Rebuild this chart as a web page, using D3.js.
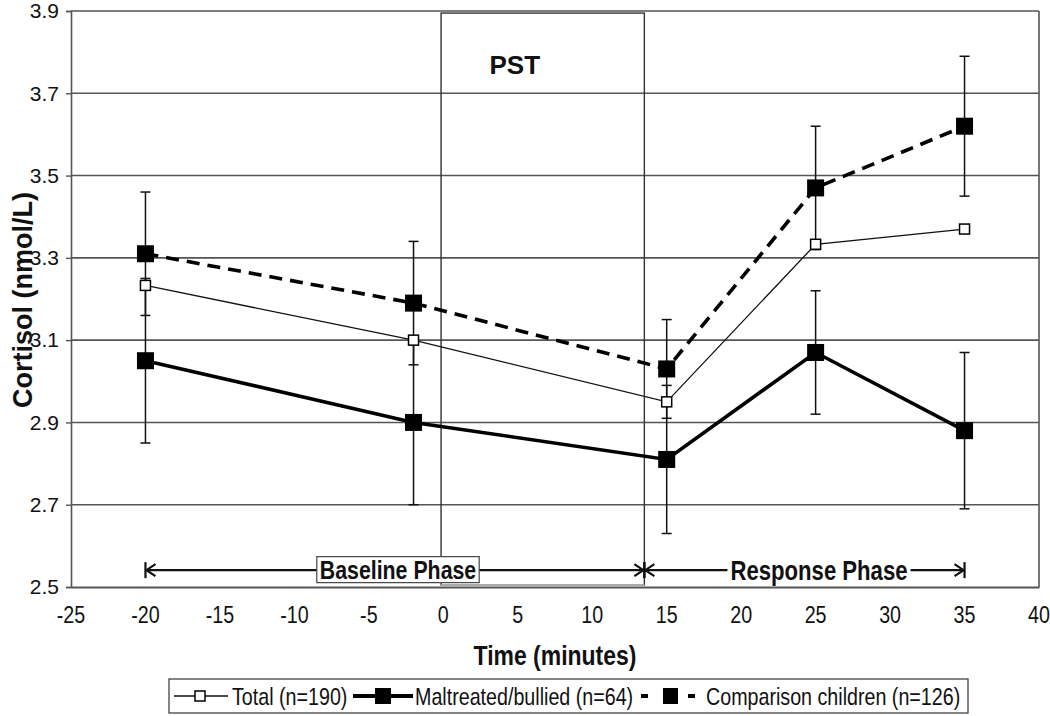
<!DOCTYPE html>
<html><head><meta charset="utf-8">
<script src="https://cdn.jsdelivr.net/npm/d3@7"></script>
<style>body{margin:0;background:#fff}</style>
</head><body>
<svg id="c" width="1050" height="716"></svg>
<script>
const times = [-20, -2, 15, 25, 35];
const totalVals = [3.233, 3.10, 2.95, 3.333, 3.37];
const maltVals = [3.05, 2.90, 2.81, 3.07, 2.88];
const maltErr = [0.20, 0.20, 0.18, 0.15, 0.19];
const compVals = [3.31, 3.19, 3.03, 3.47, 3.62];
const compErr = [0.15, 0.15, 0.12, 0.15, 0.17];
const xTicks = [-25,-20,-15,-10,-5,0,5,10,15,20,25,30,35,40];
const yTicks = [2.5,2.7,2.9,3.1,3.3,3.5,3.7,3.9];
const pstRange = [-0.15, 13.5];
const baselineRange = [-20, 13.5];
const responseRange = [13.5, 35];
const legendLabels = ["Total (n=190)", "Maltreated/bullied (n=64)", "Comparison children (n=126)"];

const SANS = "'Liberation Sans',Arial,sans-serif";
const NX = 0.82; // narrow factor
const svg = d3.select("#c");
const x = d3.scaleLinear().domain([-25, 40]).range([71, 1039]);
const y = d3.scaleLinear().domain([2.5, 3.9]).range([587, 11]);
const GRID = "#555";

function narrow(parent, tx, ty, txt, size, bold, anchor) {
  return parent.append("text")
    .attr("transform", `translate(${tx},${ty}) scale(${NX},1)`)
    .attr("text-anchor", anchor || "middle").attr("dy", "0.36em")
    .attr("font-family", SANS).attr("font-size", size)
    .attr("font-weight", bold ? "bold" : "normal").attr("fill", "#111").text(txt);
}

// gridlines
svg.append("g").selectAll("line").data(yTicks.slice(1)).join("line")
  .attr("x1", x(-25)).attr("x2", x(40)).attr("y1", d=>y(d)).attr("y2", d=>y(d))
  .attr("stroke", GRID).attr("stroke-width", 1.6);
svg.append("line").attr("x1", x(40)).attr("x2", x(40)).attr("y1", y(3.9)).attr("y2", y(2.5))
  .attr("stroke", GRID).attr("stroke-width", 1.6);

// y axis
const yAxis = svg.append("g").attr("transform", `translate(${x(-25)},0)`)
  .call(d3.axisLeft(y).tickValues(yTicks).tickFormat(d3.format(".1f")).tickSize(5).tickPadding(7));
yAxis.select(".domain").attr("stroke", GRID).attr("stroke-width", 1.6);
yAxis.selectAll(".tick line").attr("stroke", GRID).attr("stroke-width", 1.4);
yAxis.selectAll("text").attr("font-family", SANS).attr("font-size", 21).attr("fill", "#111");

// x axis (line only; labels narrow)
const xAxis = svg.append("g").attr("transform", `translate(0,${y(2.5)})`)
  .call(d3.axisBottom(x).tickValues(xTicks).tickSize(0).tickFormat(""));
xAxis.select(".domain").attr("stroke", GRID).attr("stroke-width", 1.8);
const xl = svg.append("g");
xTicks.forEach(t => narrow(xl, x(t), 614, String(t), 24, false));

// axis titles
narrow(svg, 555, 655, "Time (minutes)", 28, true);
svg.append("text").attr("transform", "translate(22,300) rotate(-90)").attr("text-anchor", "middle")
  .attr("dy", "0.36em").attr("font-family", SANS).attr("font-weight", "bold").attr("font-size", 27)
  .attr("fill", "#111").text("Cortisol (nmol/L)");

// PST box
svg.append("rect").attr("x", x(pstRange[0])).attr("y", y(3.895))
  .attr("width", x(pstRange[1]) - x(pstRange[0])).attr("height", y(2.505) - y(3.895))
  .attr("fill", "none").attr("stroke", "#333").attr("stroke-width", 1.4);
svg.append("line").attr("x1", x(pstRange[0])).attr("x2", x(pstRange[1]))
  .attr("y1", y(2.505)).attr("y2", y(2.505)).attr("stroke", "#aaa").attr("stroke-width", 2);
svg.append("text").attr("x", x(4.8)).attr("y", y(3.77)).attr("dy", "0.36em")
  .attr("text-anchor", "middle").attr("font-family", SANS).attr("font-weight", "bold").attr("font-size", 26)
  .attr("fill", "#111").text("PST");

// phase arrows
const ay = y(2.541);
function arrow(x1, x2) {
  const g = svg.append("g").attr("stroke", "#111").attr("fill", "none").attr("stroke-width", 2.2);
  g.append("line").attr("x1", x1).attr("x2", x2).attr("y1", ay).attr("y2", ay);
  g.append("line").attr("x1", x1).attr("x2", x1).attr("y1", ay - 8).attr("y2", ay + 8);
  g.append("path").attr("d", `M${x1 + 10},${ay - 6}L${x1 + 1},${ay}L${x1 + 10},${ay + 6}`);
  g.append("path").attr("d", `M${x2 - 10},${ay - 6}L${x2 - 1},${ay}L${x2 - 10},${ay + 6}`);
  g.append("line").attr("x1", x2).attr("x2", x2).attr("y1", ay - 8).attr("y2", ay + 8);
}
arrow(x(baselineRange[0]), x(baselineRange[1]));
arrow(x(responseRange[0]), x(responseRange[1]));
function phaseLabel(txt, cx, size, boxed) {
  const t = narrow(svg, cx, ay, txt, size, true);
  const w = t.node().getComputedTextLength() * NX;
  svg.insert("rect", () => t.node()).attr("x", cx - w / 2 - 3).attr("y", ay - 13.5)
    .attr("width", w + 6).attr("height", 26).attr("fill", "#fff")
    .attr("stroke", boxed ? "#444" : "none").attr("stroke-width", 1.2);
}
phaseLabel("Baseline Phase", 398, 26, true);
phaseLabel("Response Phase", 819, 27, false);

// error bars
function errBars(vals, errs) {
  const g = svg.append("g").attr("stroke", "#111").attr("stroke-width", 1.5);
  times.forEach((t, i) => {
    const cx = x(t);
    g.append("line").attr("x1", cx).attr("x2", cx).attr("y1", y(vals[i] - errs[i])).attr("y2", y(vals[i] + errs[i]));
    [vals[i] - errs[i], vals[i] + errs[i]].forEach(v =>
      g.append("line").attr("x1", cx - 5).attr("x2", cx + 5).attr("y1", y(v)).attr("y2", y(v)));
  });
}
errBars(maltVals, maltErr);
errBars(compVals, compErr);

const line = d3.line().x((d, i) => x(times[i])).y(d => y(d));
svg.append("path").datum(totalVals).attr("d", line).attr("fill", "none").attr("stroke", "#111").attr("stroke-width", 1.3);
svg.append("path").datum(compVals).attr("d", line).attr("fill", "none").attr("stroke", "#000")
  .attr("stroke-width", 3.6).attr("stroke-dasharray", "13,8");
svg.append("path").datum(maltVals).attr("d", line).attr("fill", "none").attr("stroke", "#000").attr("stroke-width", 3.6);

function markers(vals, size, filled) {
  svg.append("g").selectAll("rect").data(vals).join("rect")
    .attr("x", (d, i) => x(times[i]) - size / 2).attr("y", d => y(d) - size / 2)
    .attr("width", size).attr("height", size)
    .attr("fill", filled ? "#000" : "#fff").attr("stroke", "#000").attr("stroke-width", filled ? 0 : 1.5);
}
markers(totalVals, 10, false);
markers(compVals, 17, true);
markers(maltVals, 17, true);

// legend
const lg = svg.append("g");
lg.append("rect").attr("x", 169).attr("y", 679).attr("width", 799).attr("height", 34)
  .attr("fill", "#fff").attr("stroke", "#444").attr("stroke-width", 1.3);
const ly = 696;
// Total symbol
lg.append("line").attr("x1", 174).attr("x2", 228).attr("y1", ly).attr("y2", ly).attr("stroke", "#111").attr("stroke-width", 1.3);
lg.append("rect").attr("x", 195).attr("y", ly - 5).attr("width", 10).attr("height", 10).attr("fill", "#fff").attr("stroke", "#000").attr("stroke-width", 1.5);
narrow(lg, 232, ly, legendLabels[0], 24, false, "start");
// Maltreated symbol
lg.append("line").attr("x1", 353).attr("x2", 413).attr("y1", ly).attr("y2", ly).attr("stroke", "#000").attr("stroke-width", 4);
lg.append("rect").attr("x", 375).attr("y", ly - 8).attr("width", 16).attr("height", 16).attr("fill", "#000");
narrow(lg, 415, ly, legendLabels[1], 24, false, "start");
// Comparison symbol
lg.append("line").attr("x1", 641).attr("x2", 648).attr("y1", ly).attr("y2", ly).attr("stroke", "#000").attr("stroke-width", 4);
lg.append("rect").attr("x", 663).attr("y", ly - 8).attr("width", 15).attr("height", 16).attr("fill", "#000");
lg.append("line").attr("x1", 688).attr("x2", 695).attr("y1", ly).attr("y2", ly).attr("stroke", "#000").attr("stroke-width", 4);
narrow(lg, 706, ly, legendLabels[2], 24, false, "start");
</script>
</body></html>
